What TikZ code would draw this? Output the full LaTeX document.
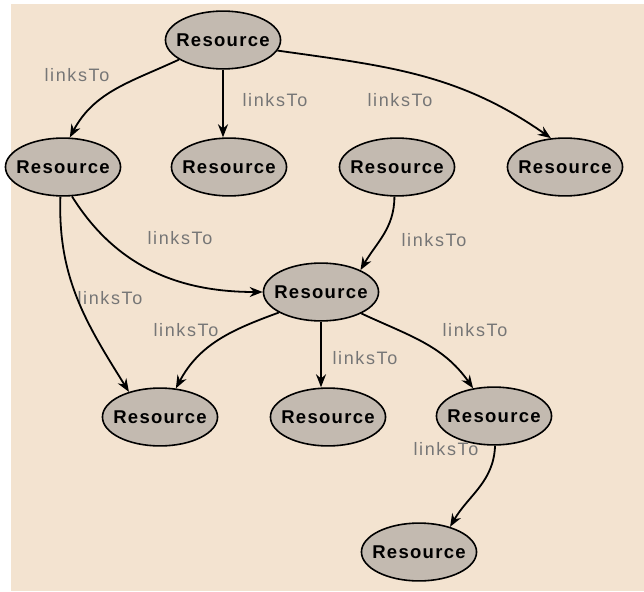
\documentclass[tikz,border=0pt]{standalone}
\usepackage{fontspec}
\setmainfont{Liberation Sans}
\usetikzlibrary{shapes.geometric,arrows.meta}
\definecolor{paper}{RGB}{243,227,208}
\definecolor{nodefill}{RGB}{195,186,176}
\definecolor{lblgray}{RGB}{118,118,118}
\tikzset{
  res/.style={ellipse, draw, line width=1.6pt, fill=nodefill, inner xsep=-6pt, inner ysep=14pt,
    font=\fontsize{18.5}{20}\selectfont\bfseries\addfontfeature{LetterSpace=7}},
  lbl/.style={text=lblgray, inner sep=0pt, font=\fontsize{18}{20}\selectfont\addfontfeature{LetterSpace=9}}
}
\begin{document}
\begin{tikzpicture}[>={Stealth[length=13pt,width=10pt]}, x=1pt, y=1pt, line width=1.8pt]
\fill[white] (0,0) rectangle (644,-591);
\fill[paper] (11,-4) rectangle (644,-591);
\useasboundingbox (0,0) rectangle (644,-591);

\node[res](R0) at (223,-40){Resource};
\node[res](R1) at (63,-167){Resource};
\node[res](R2) at (229,-167){Resource};
\node[res](R3) at (397,-167){Resource};
\node[res](R4) at (565,-167){Resource};
\node[res](R5) at (321,-292){Resource};
\node[res](R6) at (160,-417){Resource};
\node[res](R7) at (328,-417){Resource};
\node[res](R8) at (494,-416){Resource};
\node[res](R9) at (419,-552){Resource};

\node[lbl](L1) at (77,-75){linksTo};
\node[lbl](L2) at (275,-100){linksTo};
\node[lbl](L3) at (400,-100){linksTo};
\node[lbl](L4) at (180,-238){linksTo};
\node[lbl](L5) at (110,-298){linksTo};
\node[lbl](L6) at (434,-240){linksTo};
\node[lbl](L7) at (186,-330){linksTo};
\node[lbl](L8) at (365,-358){linksTo};
\node[lbl](L9) at (475,-330){linksTo};
\node[lbl](L10) at (446,-449){linksTo};

\draw[->](R0.204) to [out=205,in=62](R1.77);
\draw[->](R0) to (R0 |- R2.north);
\draw[->](R0.-11) to [out=-8,in=145](R4.116);
\draw[->](R1.-73) to [out=-58,in=180](R5.west);
\draw[->](R1.-95) to [out=-92,in=122](R6.141);
\draw[->](R3.-95) to [out=-90,in=60](R5.29);
\draw[->](R5.206) to [out=200,in=62](R6.61);
\draw[->](R5) to (R5 |- R7.north);
\draw[->](R5.-28) to [out=-25,in=125](R8.127);
\draw[->](R8.-88) to [out=-92,in=60](R9.39);
\end{tikzpicture}
\end{document}
